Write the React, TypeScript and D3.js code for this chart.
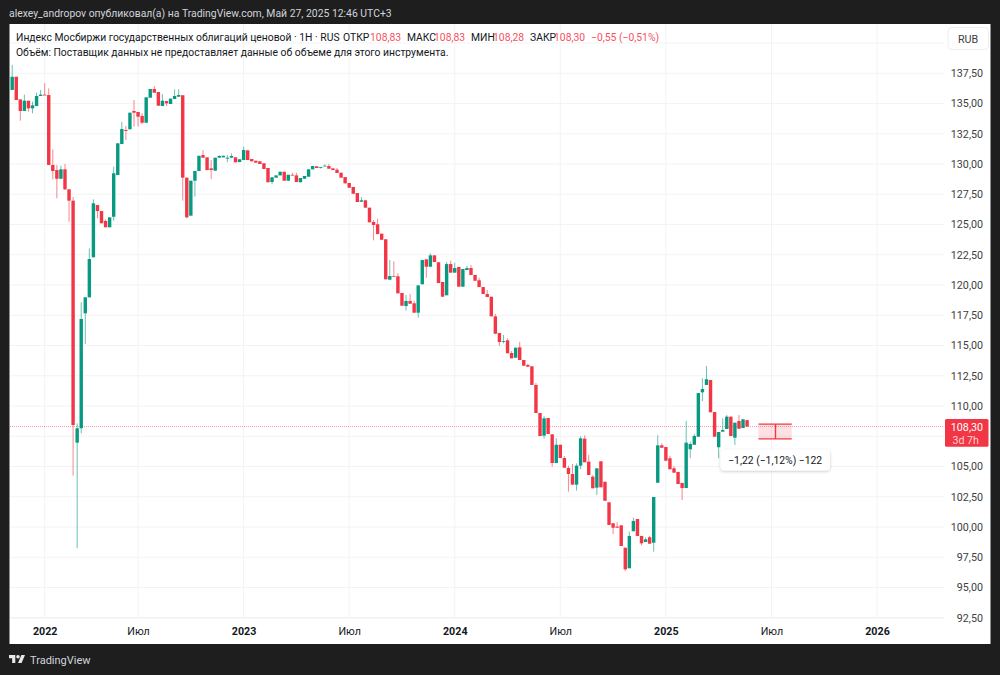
import { useEffect, useRef } from "react";
import * as d3 from "d3";

// Weekly candles
const opens = [
  136.12,137.21,135.34,134.38,135.23,134.6,134.79,135.62,135.73,135.7,
  129.92,129.5,128.78,129.56,127.91,126.97,106.97,108.16,117.66,118.98,
  122.29,126.61,126.11,125.29,124.77,125.64,129.09,131.65,132.81,132.87,
  134.38,134.3,133.97,133.41,135.48,136.2,135.95,134.79,135.2,134.96,
  135.37,135.56,135.68,128.87,125.73,128.62,129.42,130.74,130.55,129.64,
  129.45,130.52,130.55,130.44,130.52,130.55,130.16,130.33,131.13,130.41,
  130.27,130.22,130.06,129.67,128.51,128.87,129.06,129.36,128.62,129.11,
  129.06,128.49,128.78,128.95,129.56,129.81,129.69,129.83,129.83,129.64,
  129.53,129.28,128.92,128.43,128.1,127.6,126.88,127.0,126.39,125.21,
  125.02,124.24,123.78,120.44,120.74,120.72,119.34,118.26,118.68,118.49,
  117.71,120.06,122.12,121.51,122.45,121.88,120.25,119.15,121.73,121.02,
  121.49,119.86,121.24,121.4,120.83,120.39,119.83,119.26,119.03,117.41,
  116.03,115.31,115.43,114.38,113.99,114.85,113.8,113.39,113.28,111.74,
  109.42,107.55,109.01,107.66,105.29,106.8,105.7,104.88,104.38,103.5,
  105.07,107.3,105.4,104.16,103.25,105.43,103.74,102.04,100.31,100.03,
  100.14,98.29,96.59,99.65,100.66,99.26,98.76,99.15,98.7,103.66,
  106.75,106.61,105.68,104.85,104.55,103.64,103.22,106.42,106.8,107.46,
  111.13,111.74,112.15,109.5,106.59,107.88,108.1,109.12,107.38,108.76,
  108.18,108.83,
];
const highs = [
  138.18,137.21,135.34,135.73,135.23,135.15,135.89,136.12,136.67,136.25,
  131.21,129.92,129.86,130.0,127.91,127.27,108.57,118.57,118.98,123.03,
  127.08,126.61,126.11,125.43,125.59,129.78,131.71,133.49,133.14,134.24,
  135.29,134.3,134.19,135.51,136.2,136.44,135.95,135.78,135.2,135.4,
  136.17,136.17,135.7,128.87,128.62,129.42,130.68,131.16,130.55,130.33,
  130.52,130.74,130.68,130.74,130.88,130.55,130.39,131.43,131.13,130.41,
  130.27,130.22,130.06,129.67,128.9,129.06,129.36,129.36,129.11,129.28,
  129.28,128.84,129.01,129.56,129.83,129.81,129.75,129.97,130.0,129.64,
  129.67,129.28,128.92,128.43,128.1,127.6,127.27,127.0,126.39,125.37,
  125.48,124.24,123.78,122.07,121.96,120.97,119.34,119.17,119.26,118.7,
  119.97,122.07,122.12,122.62,122.45,121.88,120.25,121.9,122.01,121.84,
  121.49,121.32,121.57,121.65,120.83,120.6,119.83,119.59,119.03,117.6,
  116.03,115.87,115.59,114.55,114.82,115.31,113.8,113.5,113.28,111.9,
  109.42,109.17,109.01,107.66,107.33,106.8,105.87,105.07,105.21,105.26,
  107.5,107.58,105.95,104.3,104.85,105.43,103.74,102.04,100.31,100.39,
  100.14,98.29,99.61,100.77,100.66,99.26,99.15,99.28,102.48,107.58,
  106.92,106.61,105.89,105.04,104.55,103.64,108.79,107.05,107.69,111.07,
  112.29,113.31,112.15,109.5,107.85,108.98,109.26,109.12,108.62,109.26,
  108.9,108.83,
];
const lows = [
  136.12,135.29,133.58,134.38,134.32,134.19,134.79,135.62,135.68,129.92,
  128.73,127.16,128.78,127.85,125.23,104.24,98.24,107.74,115.12,118.98,
  122.29,125.51,125.1,124.77,124.77,125.31,129.09,131.65,131.98,132.87,
  133.08,133.08,133.3,133.41,135.48,135.89,134.82,134.79,134.79,134.96,
  135.37,135.56,126.97,125.51,125.73,127.3,129.42,130.52,129.5,128.76,
  129.45,130.52,130.55,130.14,130.52,130.14,130.16,130.33,130.33,130.22,
  130.11,130.0,129.59,128.49,128.32,128.87,129.06,128.62,128.62,129.06,
  128.51,128.49,128.78,128.95,129.56,129.67,129.61,129.83,129.61,129.5,
  129.26,128.87,128.4,128.04,127.54,126.86,126.88,126.39,125.18,123.69,
  124.21,123.74,120.47,120.44,120.69,119.31,118.29,117.88,118.45,117.71,
  117.3,120.06,120.6,121.51,121.9,120.16,119.03,119.15,121.02,121.02,
  119.86,119.86,121.24,120.83,120.35,119.83,119.26,119.01,117.41,115.97,
  114.98,115.18,114.36,113.94,113.99,113.8,113.33,113.25,111.74,109.42,
  107.52,107.3,107.69,104.98,105.29,105.7,104.9,102.92,103.5,103.0,
  104.77,105.35,104.3,103.2,102.65,103.28,102.17,100.17,99.42,99.94,
  98.43,96.36,96.59,99.65,99.26,98.49,98.76,98.62,97.96,103.66,
  106.55,105.48,104.77,104.49,103.55,102.23,103.22,105.68,106.8,107.46,
  110.41,111.74,109.48,107.46,105.68,107.88,108.1,107.52,106.78,108.12,
  108.18,108.28,
];
const closes = [
  137.21,135.29,134.38,135.23,134.6,134.85,135.62,135.73,135.68,129.92,
  129.42,128.78,129.56,127.91,126.97,108.43,108.16,117.19,118.98,122.15,
  126.75,126.11,125.1,124.77,125.59,129.23,131.71,132.89,132.73,134.24,
  134.24,133.91,133.41,135.51,136.2,135.89,134.82,135.23,135.01,135.4,
  135.62,135.7,128.87,125.59,128.62,129.42,130.68,130.52,129.5,129.5,
  130.52,130.66,130.68,130.52,130.66,130.14,130.39,131.16,130.33,130.22,
  130.11,130.0,129.59,128.49,128.9,129.06,129.36,128.62,129.11,129.06,
  128.51,128.84,129.01,129.56,129.83,129.67,129.75,129.86,129.61,129.5,
  129.26,128.87,128.4,128.04,127.54,126.86,127.0,126.39,125.18,124.96,
  124.21,123.74,120.47,120.74,120.69,119.31,118.29,118.68,118.45,117.71,
  119.97,122.07,121.51,122.45,121.9,120.16,119.03,121.73,121.02,121.4,
  119.86,121.32,121.4,120.83,120.35,119.83,119.26,119.01,117.41,115.97,
  115.29,115.37,114.36,113.94,114.82,113.8,113.33,113.25,111.74,109.42,
  107.52,108.98,107.69,105.29,106.8,105.7,104.9,104.38,103.5,105.07,
  107.33,105.35,104.3,103.2,104.85,103.28,102.17,100.17,99.94,99.94,
  98.43,96.5,99.26,100.5,99.26,98.65,98.98,98.62,102.48,106.75,
  106.55,105.48,104.77,104.49,103.55,103.22,106.97,106.86,107.52,111.07,
  111.4,112.21,109.48,107.46,107.85,108.02,109.12,107.52,108.62,108.12,
  108.9,108.3,
];

const priceGrid = [92.5, 95, 97.5, 100, 102.5, 105, 107.5, 110, 112.5, 115, 117.5, 120, 122.5, 125, 127.5, 130, 132.5, 135, 137.5, 140];
const priceTicks = [92.5, 95, 97.5, 100, 102.5, 105, 110, 112.5, 115, 117.5, 120, 122.5, 125, 127.5, 130, 132.5, 135, 137.5];
// time axis is by bar number, so the weeks the exchange was shut don't take up room
const timeTicks = [8, 31, 57, 83, 109, 135, 161, 187, 213];
const timeLabels = ["2022", "Июл", "2023", "Июл", "2024", "Июл", "2025", "Июл", "2026"];

const lastPrice = 108.3;
const measureFrom = 108.5;
const measureTo = 107.28;
const measureBars = [183.8, 188, 192];

const headerText = "alexey_andropov опубликовал(а) на TradingView.com, Май 27, 2025 12:46 UTC+3";
const titleText = "Индекс Мосбиржи государственных облигаций ценовой · 1Н · RUS";
const volumeText = "Объём: Поставщик данных не предоставляет данные об объеме для этого инструмента.";
const legendParts = [
  { x: 343, text: "ОТКР", up: false }, { x: 370, text: "108,83", up: true },
  { x: 407, text: "МАКС", up: false }, { x: 434, text: "108,83", up: true },
  { x: 471, text: "МИН", up: false }, { x: 493, text: "108,28", up: true },
  { x: 530, text: "ЗАКР", up: false }, { x: 554, text: "108,30", up: true },
  { x: 591, text: "−0,55 (−0,51%)", up: true },
];

const RED = "#f23645";
const GREEN = "#089981";
const FONT = "Roboto, sans-serif";
const TEXT_SIZE = 10.35;

export default function App() {
  const ref = useRef<SVGSVGElement | null>(null);

  useEffect(() => {
    if (!ref.current) return;
    const svg = d3.select(ref.current);
    svg.selectAll("*").remove();
    svg.attr("font-family", FONT);

    const plot = { left: 10, right: 944, top: 24, bottom: 617 };

    const x = d3.scaleLinear().domain([0, 213]).range([12.2, 877]);
    const y = d3.scaleLinear().domain([92.5, 140]).range([617.75, 43]);

    // page and panel
    svg.append("rect").attr("width", 1000).attr("height", 675).attr("fill", "#1e1e1e");
    svg.append("rect").attr("x", 9.5).attr("y", 24).attr("width", 981).attr("height", 620).attr("fill", "#ffffff");

    svg.append("text").attr("x", 9).attr("y", 17).attr("font-size", TEXT_SIZE + 0.05).attr("fill", "#d1d4dc").text(headerText);

    // grid
    svg.append("g").selectAll("line").data(priceGrid).enter().append("line")
      .attr("x1", plot.left).attr("x2", plot.right)
      .attr("y1", d => y(d)).attr("y2", d => y(d))
      .attr("stroke", "#f2f3f5");
    svg.append("g").selectAll("line").data(timeTicks).enter().append("line")
      .attr("x1", d => x(d)).attr("x2", d => x(d))
      .attr("y1", plot.top).attr("y2", plot.bottom)
      .attr("stroke", "#f2f3f5");

    // last price line
    svg.append("line")
      .attr("x1", plot.left).attr("x2", plot.right)
      .attr("y1", y(lastPrice)).attr("y2", y(lastPrice))
      .attr("stroke", RED).attr("stroke-opacity", 0.5)
      .attr("stroke-dasharray", "1 1");

    // candles
    const bars = d3.range(opens.length);
    const color = (i: number) => (closes[i] >= opens[i] ? GREEN : RED);
    const g = svg.append("g");
    g.selectAll("line.wick").data(bars).enter().append("line")
      .attr("class", "wick")
      .attr("x1", i => x(i)).attr("x2", i => x(i))
      .attr("y1", i => y(highs[i])).attr("y2", i => y(lows[i]))
      .attr("stroke", color).attr("stroke-width", 1).attr("stroke-opacity", 0.6);
    g.selectAll("rect").data(bars).enter().append("rect")
      .attr("x", i => x(i) - 1.7)
      .attr("width", 3.4)
      .attr("y", i => y(Math.max(opens[i], closes[i])))
      .attr("height", i => Math.max(0.8, Math.abs(y(opens[i]) - y(closes[i]))))
      .attr("fill", color);

    // measure tool
    const mg = svg.append("g");
    mg.append("rect")
      .attr("x", x(measureBars[0])).attr("width", x(measureBars[2]) - x(measureBars[0]))
      .attr("y", y(measureFrom)).attr("height", y(measureTo) - y(measureFrom))
      .attr("fill", RED).attr("fill-opacity", 0.15);
    [measureFrom, measureTo].forEach(v => {
      mg.append("line")
        .attr("x1", x(measureBars[0])).attr("x2", x(measureBars[2]))
        .attr("y1", y(v)).attr("y2", y(v))
        .attr("stroke", RED).attr("stroke-width", 1.4);
    });
    mg.append("line")
      .attr("x1", x(measureBars[1])).attr("x2", x(measureBars[1]))
      .attr("y1", y(measureFrom)).attr("y2", y(measureTo))
      .attr("stroke", RED).attr("stroke-width", 1.4);

    const defs = svg.append("defs");
    const shadow = defs.append("filter").attr("id", "tipShadow")
      .attr("x", "-10%").attr("y", "-30%").attr("width", "120%").attr("height", "170%");
    shadow.append("feDropShadow")
      .attr("dx", 0).attr("dy", 1).attr("stdDeviation", 1.6)
      .attr("flood-color", "#000").attr("flood-opacity", 0.22);
    svg.append("rect")
      .attr("x", 720.5).attr("y", 449.5).attr("width", 109.5).attr("height", 21).attr("rx", 4)
      .attr("fill", "#fff").attr("filter", "url(#tipShadow)");
    svg.append("text")
      .attr("x", 775.2).attr("y", 464).attr("text-anchor", "middle")
      .attr("font-size", TEXT_SIZE).attr("fill", "#131722").text("−1,22 (−1,12%) −122");

    // legend
    svg.append("text").attr("x", 16).attr("y", 41).attr("font-size", TEXT_SIZE).attr("fill", "#131722").text(titleText);
    svg.append("g").selectAll("text").data(legendParts).enter().append("text")
      .attr("x", d => d.x).attr("y", 41).attr("font-size", TEXT_SIZE)
      .attr("fill", d => (d.up ? "#f7525f" : "#131722"))
      .text(d => d.text);
    svg.append("text").attr("x", 16).attr("y", 56).attr("font-size", TEXT_SIZE).attr("fill", "#131722").text(volumeText);

    // axes
    const yAxis = svg.append("g")
      .attr("transform", "translate(983,0)")
      .call(d3.axisLeft(y).tickValues(priceTicks).tickSize(0).tickPadding(0)
        .tickFormat(d => (d as number).toFixed(2).replace(".", ",")));
    yAxis.select(".domain").remove();
    yAxis.selectAll("text").attr("font-family", FONT).attr("font-size", 10.7).attr("fill", "#404040");

    const xAxis = svg.append("g")
      .attr("transform", `translate(0,${plot.bottom})`)
      .call(d3.axisBottom(x).tickValues(timeTicks).tickSize(0).tickPadding(10)
        .tickFormat((_, i) => timeLabels[i]));
    xAxis.select(".domain").remove();
    xAxis.selectAll("text")
      .attr("font-family", FONT).attr("font-size", 10.7).attr("fill", "#131722")
      .attr("font-weight", (_, i) => (timeLabels[i] === "Июл" ? 400 : 700));
    svg.append("line")
      .attr("x1", plot.left).attr("x2", plot.right)
      .attr("y1", y(92.5)).attr("y2", y(92.5))
      .attr("stroke", "#eeeff1");

    // RUB button
    svg.append("rect")
      .attr("x", 948).attr("y", 27.5).attr("width", 40.5).attr("height", 22).attr("rx", 4)
      .attr("fill", "#fff").attr("stroke", "#eceef1");
    svg.append("text")
      .attr("x", 968).attr("y", 42.5).attr("text-anchor", "middle")
      .attr("font-size", 10.7).attr("fill", "#404040").text("RUB");

    // last price badge
    svg.append("rect")
      .attr("x", 945).attr("y", 419).attr("width", 43.5).attr("height", 27.7).attr("rx", 1.5)
      .attr("fill", RED);
    svg.append("text")
      .attr("x", 983).attr("y", y(lastPrice) + 4).attr("text-anchor", "end")
      .attr("font-size", 10.7).attr("fill", "#fff").text("108,30");
    svg.append("text")
      .attr("x", 979).attr("y", y(lastPrice) + 17).attr("text-anchor", "end")
      .attr("font-size", 10.7).attr("fill", "#ffd0d4").text("3d 7h");

    // footer
    const logo = svg.append("g").attr("transform", "translate(9,653.2) scale(0.45)").attr("fill", "#e8e8e8");
    logo.append("path").attr("d", "M14 22H7V11H0V4h14v18zM28 22h-8l7.5-18h8L28 22z");
    logo.append("circle").attr("cx", 20).attr("cy", 8).attr("r", 4);
    svg.append("text")
      .attr("x", 30).attr("y", 664).attr("font-size", 11).attr("fill", "#d1d4dc").text("TradingView");
  }, []);

  return <svg ref={ref} width={1000} height={675} style={{ position: "absolute", left: 0, top: 0 }} />;
}
